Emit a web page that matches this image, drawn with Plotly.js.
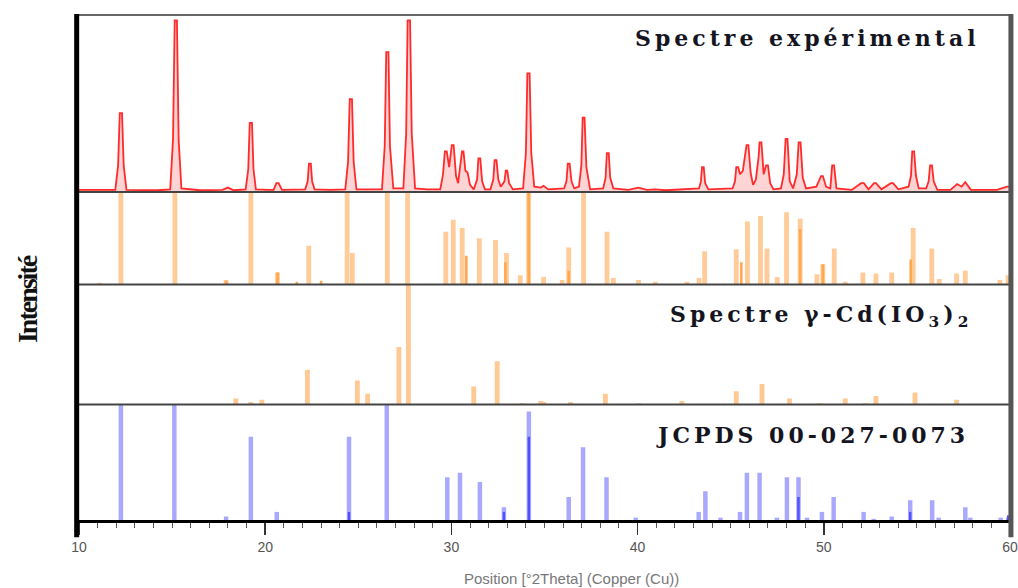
<!DOCTYPE html>
<html>
<head>
<meta charset="utf-8">
<script src="https://cdn.plot.ly/plotly-3.0.1.min.js"></script>
<style>
html,body{margin:0;padding:0;background:#fff;}
#chart{width:1018px;height:588px;}
</style>
</head>
<body>
<div id="chart"></div>
<script>
// ---------- DATA ----------
// Experimental pattern (2θ, relative intensity)
const expX = [10.0,11.5,11.95,12.1,12.19,12.31,12.4,12.55,14.2,14.9,15.05,15.14,15.26,15.35,15.5,16.5,17.7,18.0,18.3,18.95,19.09,19.17,19.29,19.37,19.5,20.2,20.45,20.6,20.72,20.9,21.5,22.15,22.28,22.35,22.45,22.52,22.65,23.5,24.3,24.45,24.54,24.66,24.75,24.9,25.6,26.27,26.42,26.5,26.62,26.7,26.88,27.2,27.42,27.57,27.65,27.78,27.87,28.05,28.7,29.4,29.55,29.65,29.75,29.88,30.02,30.12,30.25,30.36,30.5,30.57,30.65,30.75,30.87,31.0,31.2,31.38,31.45,31.55,31.65,31.8,32.1,32.25,32.32,32.42,32.52,32.65,32.85,32.92,33.0,33.1,33.3,33.85,34.0,34.08,34.2,34.29,34.45,34.8,34.95,35.2,36.05,36.18,36.25,36.35,36.45,36.6,36.85,36.98,37.05,37.15,37.25,37.45,38.15,38.28,38.35,38.45,38.53,38.7,39.5,40.04,40.5,40.95,41.5,42.7,43.3,43.4,43.46,43.55,43.63,43.8,45.1,45.23,45.3,45.4,45.5,45.65,45.78,45.85,45.95,46.07,46.2,46.35,46.5,46.55,46.65,46.77,46.9,47.0,47.12,47.3,47.7,47.85,47.95,48.05,48.17,48.35,48.55,48.65,48.75,48.87,49.05,49.6,49.85,49.95,50.12,50.35,50.45,50.55,50.68,51.5,52.0,52.15,52.4,52.7,52.8,53.1,53.6,53.72,54.0,54.55,54.68,54.75,54.85,54.95,55.1,55.5,55.63,55.71,55.81,55.9,56.1,56.8,57.16,57.4,57.6,57.9,59.3,59.84,60.0];
const expY = [0.012,0.010,0.012,0.15,0.446,0.446,0.15,0.012,0.010,0.015,0.30,0.97,0.97,0.30,0.02,0.010,0.012,0.025,0.010,0.015,0.13,0.39,0.39,0.13,0.015,0.012,0.012,0.05,0.05,0.012,0.012,0.015,0.06,0.16,0.16,0.06,0.015,0.012,0.015,0.17,0.525,0.525,0.17,0.015,0.015,0.015,0.26,0.79,0.79,0.26,0.02,0.02,0.02,0.33,0.97,0.97,0.33,0.02,0.015,0.015,0.10,0.23,0.23,0.14,0.265,0.265,0.09,0.05,0.18,0.23,0.23,0.12,0.11,0.04,0.015,0.07,0.19,0.19,0.06,0.015,0.015,0.07,0.18,0.18,0.07,0.03,0.06,0.12,0.12,0.05,0.015,0.02,0.22,0.67,0.67,0.22,0.03,0.025,0.035,0.015,0.02,0.06,0.16,0.16,0.06,0.02,0.03,0.15,0.42,0.42,0.14,0.015,0.02,0.08,0.22,0.22,0.08,0.02,0.012,0.025,0.012,0.015,0.010,0.015,0.02,0.06,0.14,0.14,0.05,0.015,0.02,0.06,0.14,0.14,0.10,0.12,0.20,0.265,0.265,0.11,0.04,0.07,0.20,0.28,0.28,0.10,0.15,0.15,0.05,0.015,0.02,0.10,0.30,0.30,0.06,0.02,0.10,0.28,0.28,0.08,0.02,0.03,0.09,0.09,0.03,0.02,0.15,0.15,0.02,0.012,0.05,0.05,0.015,0.05,0.05,0.015,0.05,0.05,0.015,0.03,0.09,0.23,0.23,0.09,0.02,0.02,0.06,0.15,0.15,0.06,0.012,0.012,0.045,0.03,0.055,0.012,0.012,0.03,0.03];

// Combined reference sticks (orange)
const combX = [11.1,12.25,15.15,17.9,19.23,20.66,22.34,24.4,24.68,26.56,27.65,29.7,30.1,30.58,31.5,32.37,32.96,33.7,34.15,34.95,35.95,36.3,37.1,38.36,38.7,40.05,40.95,42.65,43.3,43.6,45.3,45.9,46.6,46.95,47.5,48.0,48.73,49.63,49.95,50.56,51.15,52.1,52.8,53.65,54.8,55.8,56.2,57.13,57.6,59.46,59.9];
const combY = [0.02,1,1,0.05,1,0.13,0.42,1,0.34,1,1,0.57,0.70,0.61,0.50,0.48,0.34,0.10,1,0.08,0.05,0.40,1,0.57,0.07,0.05,0.03,0.03,0.07,0.36,0.38,0.68,0.74,0.39,0.08,0.78,0.71,0.11,0.22,0.39,0.03,0.13,0.12,0.13,0.61,0.39,0.06,0.12,0.15,0.05,0.10];
const combDarkX = [17.9,20.66,21.7,23.0,30.8,32.9,34.15,36.3,45.57,48.73,49.95,54.67];
const combDarkY = [0.04,0.13,0.03,0.04,0.31,0.24,1,0.15,0.24,0.60,0.22,0.27];

// γ-Cd(IO3)2 sticks
const gammaX = [18.42,19.23,19.82,22.27,24.95,25.5,27.18,27.69,31.2,32.46,33.8,34.8,34.96,36.4,38.27,40.06,42.38,45.3,46.68,48.16,49.77,51.15,52.22,52.8,54.9,57.13];
const gammaY = [0.05,0.02,0.04,0.29,0.20,0.09,0.48,1,0.15,0.36,0.01,0.03,0.02,0.02,0.09,0.01,0.03,0.11,0.17,0.05,0.01,0.05,0.01,0.07,0.10,0.04];

// JCPDS 00-027-0073 sticks (blue)
const jcpdsX = [12.25,15.12,17.9,19.23,20.62,24.5,26.53,29.78,30.46,31.53,32.82,34.16,36.3,37.07,38.33,39.9,43.28,43.64,44.45,45.5,45.87,46.55,47.48,48.02,48.64,49.1,49.9,50.53,52.14,52.68,53.65,54.64,55.82,56.17,57.6,57.87,59.5,59.9];
const jcpdsY = [1,1,0.03,0.72,0.07,0.72,1,0.37,0.41,0.33,0.11,0.94,0.20,0.63,0.37,0.02,0.07,0.25,0.02,0.07,0.41,0.41,0.02,0.37,0.37,0.02,0.07,0.20,0.07,0.01,0.03,0.17,0.17,0.02,0.11,0.02,0.02,0.02];
const jcpdsDarkX = [24.5,32.82,34.16,48.64,54.64,59.9];
const jcpdsDarkY = [0.07,0.07,0.72,0.20,0.07,0.04];

const xTicks = [10,20,30,40,50,60];
const panelLabels = ['Spectre expérimental','Spectre γ-Cd(IO<sub>3</sub>)<sub>2</sub>','JCPDS 00-027-0073'];
const yTitle = 'Intensité';
const xTitle = 'Position [°2Theta] (Copper (Cu))';

// ---------- TRACES ----------
const traces = [
  {type:'scatter', mode:'lines', x:expX, y:expY, xaxis:'x', yaxis:'y',
   line:{color:'#ff2a2a', width:1.8}, fill:'tozeroy', fillcolor:'rgba(255,100,100,0.28)', hoverinfo:'skip'},
  {type:'bar', x:combX, y:combY, xaxis:'x', yaxis:'y2', width:0.26,
   marker:{color:'#ffcc99', line:{width:0}}},
  {type:'bar', x:combDarkX, y:combDarkY, xaxis:'x', yaxis:'y2', width:0.14,
   marker:{color:'#ffa850', line:{width:0}}},
  {type:'bar', x:gammaX, y:gammaY, xaxis:'x', yaxis:'y3', width:0.26,
   marker:{color:'#ffc994', line:{width:0}}},
  {type:'bar', x:jcpdsX, y:jcpdsY, xaxis:'x', yaxis:'y4', width:0.24,
   marker:{color:'rgba(110,110,255,0.6)', line:{width:0}}},
  {type:'bar', x:jcpdsDarkX, y:jcpdsDarkY, xaxis:'x', yaxis:'y4', width:0.13,
   marker:{color:'#5050ff', line:{width:0}}}
];

const d1 = 0.6495, d2 = 0.4663, d3 = 0.2287;
const hidden = {visible:false, showgrid:false, zeroline:false, showline:false, showticklabels:false, ticks:'', range:[0,1], fixedrange:true};
const labelFont = {family:'DejaVu Serif, Liberation Serif, serif', size:22, color:'#15151f'};

const layout = {
  width:1018, height:588,
  margin:{l:79, r:8, t:15, b:68},
  paper_bgcolor:'#fff', plot_bgcolor:'#fff',
  showlegend:false, barmode:'overlay',
  font:{family:'Liberation Sans, Arial, sans-serif'},
  xaxis:{domain:[0,1], range:[10,60], anchor:'y4', automargin:false,
    showline:true, linecolor:'#000', linewidth:3, mirror:false,
    showgrid:false, zeroline:false,
    tickmode:'array', tickvals:xTicks, ticktext:xTicks.map(String),
    ticks:'outside', ticklen:12, tickwidth:1.5, tickcolor:'#333',
    tickfont:{size:14, color:'#555', family:'Liberation Sans, Arial, sans-serif'},
    minor:{tickmode:'linear', tick0:10, dtick:1, ticks:'outside', ticklen:5, tickwidth:1, tickcolor:'#555', showgrid:false}
  },
  yaxis:Object.assign({domain:[d1,1]}, hidden),
  yaxis2:Object.assign({domain:[d2,d1]}, hidden),
  yaxis3:Object.assign({domain:[d3,d2]}, hidden),
  yaxis4:Object.assign({domain:[0,d3]}, hidden),
  shapes:[
    {type:'line', xref:'paper', yref:'paper', x0:0, x1:1, y0:1, y1:1, line:{color:'#666', width:2}},
    {type:'line', xref:'paper', yref:'paper', x0:0, x1:1, y0:d1, y1:d1, line:{color:'#444', width:2}},
    {type:'line', xref:'paper', yref:'paper', x0:0, x1:1, y0:d2, y1:d2, line:{color:'#444', width:2}},
    {type:'line', xref:'paper', yref:'paper', x0:0, x1:1, y0:d3, y1:d3, line:{color:'#444', width:2}},
    {type:'line', xref:'paper', yref:'paper', x0:-0.0025, x1:-0.0025, y0:-0.034, y1:1.002, line:{color:'#000', width:5}},
    {type:'line', xref:'paper', yref:'paper', x0:1.001, x1:1.001, y0:-0.034, y1:1.002, line:{color:'#555', width:5}}
  ],
  annotations:[
    {xref:'paper', yref:'paper', x:0.782, y:0.954, text:'<b>'+panelLabels[0]+'</b>', showarrow:false,
     xanchor:'center', yanchor:'middle', font:labelFont},
    {xref:'paper', yref:'paper', x:0.797, y:0.404, text:'<b>'+panelLabels[1]+'</b>', showarrow:false,
     xanchor:'center', yanchor:'middle', font:labelFont},
    {xref:'paper', yref:'paper', x:0.788, y:0.168, text:'<b>'+panelLabels[2]+'</b>', showarrow:false,
     xanchor:'center', yanchor:'middle', font:labelFont},
    {xref:'paper', yref:'paper', x:-0.0558, y:0.4356, text:'<b>'+yTitle+'</b>', showarrow:false, textangle:-90,
     xanchor:'center', yanchor:'middle', font:{family:'Liberation Serif, Times New Roman, serif', size:28, color:'#111'}},
    {xref:'paper', yref:'paper', x:0.5285, y:-0.1149, text:xTitle, showarrow:false,
     xanchor:'center', yanchor:'middle', font:{family:'Liberation Sans, Arial, sans-serif', size:15, color:'#777'}}
  ]
};

function styleText(){
  document.querySelectorAll('#chart g.annotation').forEach(function(g){
    var idx = g.getAttribute('data-index');
    var ls = null;
    if (idx === '0' || idx === '1' || idx === '2') ls = '4';
    if (idx === '3') ls = '-2';
    if (ls) g.querySelectorAll('text').forEach(function(t){ t.setAttribute('letter-spacing', ls); });
  });
}

Plotly.newPlot('chart', traces, layout, {displayModeBar:false, staticPlot:true}).then(function(gd){
  styleText();
  gd.on('plotly_afterplot', styleText);
});
</script>
</body>
</html>
